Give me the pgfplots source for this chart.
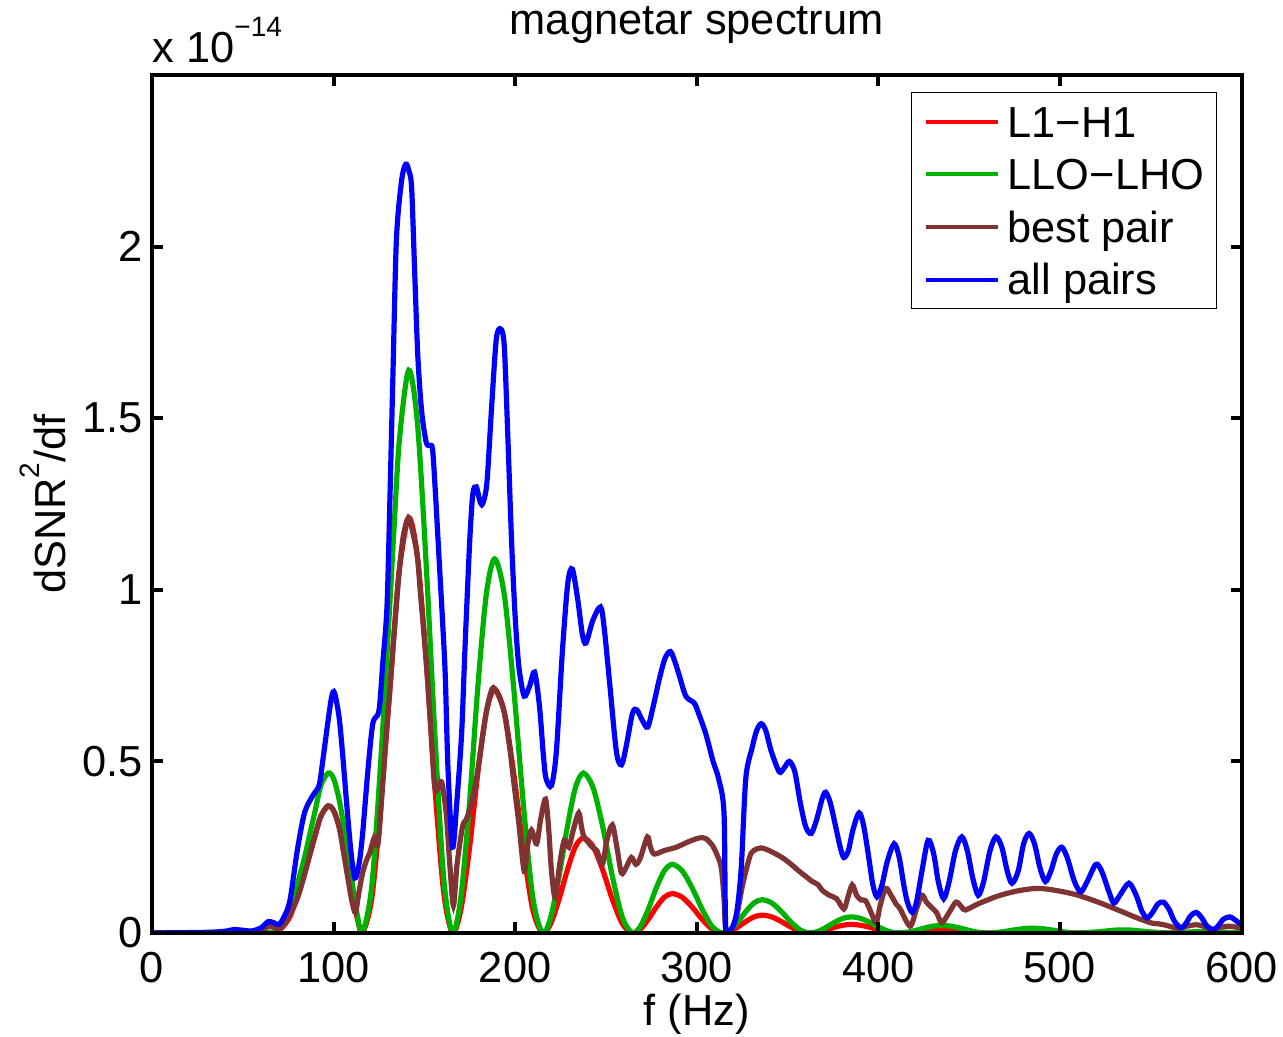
\documentclass[border=0pt]{standalone}
\usepackage{pgfplots}
\pgfplotsset{compat=1.18}
\usepackage{fontspec}
\setmainfont{Liberation Sans}
\definecolor{cred}{RGB}{255,0,0}
\definecolor{cgreen}{RGB}{0,178,0}
\definecolor{cbrown}{RGB}{128,51,51}
\definecolor{cblue}{RGB}{0,0,255}
\newcommand{\fs}{\fontsize{21.7}{26}\selectfont}
\newcommand{\sups}[1]{\raisebox{13pt}{\fontsize{14}{14}\selectfont #1}}
\begin{document}
\begin{tikzpicture}
\begin{axis}[
  scale only axis, width=544.75pt, height=429pt,
  xmin=0, xmax=600, ymin=0, ymax=2.5,
  xtick={0,100,200,300,400,500,600},
  ytick={0,0.5,1,1.5,2},
  tick align=inside, xtick pos=both, ytick pos=both,
  major tick length=5.5pt,
  every tick/.style={black, line width=2pt},
  axis line style={line width=2pt, black},
  axis on top,
  /pgf/number format/assume math mode=true,
  tick label style={font=\fs},
  xticklabel style={anchor=base, inner sep=0pt, yshift=-24.5pt},
  yticklabel style={anchor=east, inner sep=0pt, xshift=-4.5pt},
  scaled y ticks=false,
  legend cell align=left,
  legend style={at={(rel axis cs:1,1)}, anchor=north east, xshift=-12.25pt, yshift=-8.5pt,
    draw=black, line width=0.75pt, fill=white, font=\fs,
    inner xsep=6pt, inner ysep=1.35pt, row sep=0pt, column sep=4pt,
    nodes={inner sep=0pt, text height=20.85pt, text depth=5.45pt}},
  legend image code/.code={\draw[#1, line width=2pt] (0pt,0pt) -- (36pt,0pt);},
  every axis plot/.append style={line width=2.6pt, smooth, tension=0.5},
]
\addplot[cred] table {
0 0
55 0
62 0
70 0.008
76 0.048
80 0.111
84 0.175
87 0.23
90 0.286
93 0.341
97 0.37
100 0.357
103 0.31
106 0.238
109 0.151
111 0.095
113.5 0.032
116 0
121.1 0.103
126.2 0.386
131.2 0.723
133.5 0.885
136.3 1.063
141.4 1.21
146.2 1.095
151.0 0.793
155.9 0.417
160.7 0.116
165.5 0
170.1 0.068
174.8 0.245
179.4 0.465
184.1 0.643
188.7 0.71
194.0 0.643
199.2 0.465
204.5 0.245
209.7 0.068
215 0
219.5 0.0265
224.0 0.0956
228.6 0.181
233.1 0.251
237.6 0.277
243.0 0.251
248.4 0.181
253.7 0.0956
259.1 0.0265
264.5 0
268.9 0.011
273.3 0.0397
277.7 0.0753
282.1 0.104
286.5 0.115
292 0.104
297.5 0.0753
303 0.0397
308.5 0.011
314 0
318.4 0.005
322.8 0.018
327.2 0.034
331.6 0.047
336 0.052
341.2 0.047
346.4 0.034
351.6 0.018
356.8 0.005
362 0
366.6 0.0024
371.2 0.0086
375.8 0.0164
380.4 0.0226
385 0.025
390.2 0.0226
395.4 0.0164
400.6 0.0086
405.8 0.0024
411 0
420.6 0.004
425.4 0.008
430.2 0.011
435 0.012
440 0.011
445 0.008
450 0.004
460 0
472 0.003
485 0.005
498 0.003
510 0
522 0.002
535 0.003
548 0.002
560 0
580 0.002
600 0
};
\addplot[cgreen] table {
0 0
55 0
62 0
70 0.01
76 0.06
80 0.14
84 0.22
87 0.29
90 0.36
93 0.43
97 0.466
100 0.45
103 0.39
106 0.30
109 0.19
111 0.12
113.5 0.04
116 0
121.1 0.14
126.2 0.52
131.2 0.98
133.5 1.2
136.3 1.44
141.4 1.64
146.2 1.484
151.0 1.074
155.9 0.566
160.7 0.157
165.5 0
170.1 0.104
174.8 0.376
179.4 0.714
184.1 0.986
188.7 1.09
194.0 0.986
199.2 0.714
204.5 0.376
209.7 0.104
215 0
219.5 0.0445
224.0 0.161
228.6 0.305
233.1 0.422
237.6 0.466
243.0 0.422
248.4 0.305
253.7 0.161
259.1 0.0445
264.5 0
268.9 0.019
273.3 0.069
277.7 0.131
282.1 0.181
286.5 0.2
292 0.181
297.5 0.131
303 0.069
308.5 0.019
314 0
318.4 0.0093
322.8 0.0335
327.2 0.0635
331.6 0.0878
336 0.097
341.2 0.0878
346.4 0.0635
351.6 0.0335
356.8 0.0093
362 0
366.6 0.0045
371.2 0.0162
375.8 0.0308
380.4 0.0425
385 0.047
390.2 0.0425
395.4 0.0308
400.6 0.0162
405.8 0.0045
411 0
415.8 0.0021
420.6 0.0076
425.4 0.0144
430.2 0.0199
435 0.022
440 0.0199
445 0.0144
450 0.0076
455 0.0021
460 0
465 0.0013
470 0.0048
475 0.0092
480 0.0127
485 0.014
490 0.0127
495 0.0092
500 0.0048
505 0.0013
510 0
520 0.0031
530 0.0081
535 0.009
540 0.0081
550 0.0031
560 0
570 0.0025
580 0.005
590 0.0025
600 0
};
\addplot[cbrown] table {
0 0
50 0
58 0.004
65 0.02
70 0.012
75 0.045
80 0.1
84 0.17
87 0.23
90 0.29
93 0.34
96.8 0.37
100 0.357
103 0.31
105 0.25
108 0.155
110 0.095
112 0.06
114 0.12
116 0.175
118 0.21
120 0.235
122.6 0.28
124.5 0.26
127 0.43
129 0.58
131.2 0.723
133.5 0.885
136.3 1.063
138.5 1.16
141.2 1.21
143.5 1.17
146.2 1.095
148 0.98
151 0.793
153.5 0.6
155.6 0.43
157.5 0.42
159.5 0.44
162 0.35
164 0.2
166 0.08
168 0.2
171 0.31
173 0.33
175.5 0.37
178.7 0.45
182 0.57
184.1 0.643
186 0.69
188 0.715
191 0.69
194 0.643
197 0.54
199 0.45
202 0.32
205 0.18
207 0.26
209 0.30
211.8 0.26
214 0.33
216.7 0.39
218.5 0.3
220 0.18
222 0.105
224.5 0.2
227 0.27
229.5 0.25
232 0.3
235 0.35
236.5 0.31
238 0.28
242.5 0.25
245 0.24
248 0.20
250.5 0.27
253.5 0.315
256 0.25
258.5 0.175
261 0.19
264 0.22
266.5 0.20
269 0.22
272.8 0.28
274.5 0.25
276.6 0.23
282 0.24
288.8 0.25
295 0.265
301.4 0.277
305 0.275
308.5 0.256
311 0.23
313.5 0.19
315 0.1
316 0.01
319 0.01
322 0.05
325 0.134
328 0.2
330 0.233
333 0.245
335.5 0.248
340 0.24
347 0.22
352 0.2
356.4 0.18
360 0.165
363.6 0.15
365.5 0.145
367 0.14
369 0.125
373 0.11
377 0.1
381 0.07
383 0.1
385.6 0.14
388 0.11
390.5 0.096
393 0.094
396 0.06
398.8 0.03
401 0.08
404 0.13
407 0.11
409.7 0.085
412 0.07
417.5 0.02
421 0.07
424 0.11
426.5 0.09
429 0.076
432 0.06
435 0.03
439 0.06
442.8 0.09
446 0.075
448 0.067
455 0.085
466 0.108
477 0.123
488 0.13
499 0.123
510 0.11
521 0.09
532 0.067
542 0.045
550.5 0.029
554 0.027
558 0.023
565 0.014
570 0.02
575 0.024
579 0.02
583.5 0.01
588 0.016
593 0.02
597 0.017
600 0.015
};
\addplot[cblue] table {
0 0
30 0.002
40 0.005
45 0.01
50 0.008
55 0.006
60 0.015
64 0.033
67 0.03
70 0.025
73 0.05
76 0.096
80 0.24
84 0.35
88.5 0.40
92 0.43
94 0.50
97 0.62
99 0.69
100.5 0.70
103 0.63
105 0.52
107 0.39
109.5 0.24
111.7 0.16
114 0.2
116 0.29
119 0.48
121.6 0.61
124.3 0.635
125.5 0.67
127 0.78
129.4 0.95
131 1.26
132.7 1.63
134.6 2.02
137.4 2.19
139.7 2.24
141.5 2.22
143 2.17
144.7 1.92
146.4 1.68
148.5 1.52
151 1.43
153 1.42
154.5 1.41
156 1.29
158 1.10
160 0.91
161.5 0.75
163 0.48
165.5 0.25
168 0.39
170.5 0.58
172 0.78
173 0.91
175 1.145
176.7 1.28
178.6 1.30
180.5 1.26
182 1.25
184.4 1.31
187 1.53
189.6 1.73
192 1.76
194 1.71
196 1.44
198 1.145
199.7 0.95
201 0.84
202.4 0.76
205 0.69
208 0.72
210.7 0.76
213.4 0.66
215.5 0.52
217 0.45
220 0.43
222.7 0.53
226 0.82
229 1.02
231.5 1.06
234.5 0.97
237 0.87
239 0.845
242.7 0.91
247 0.95
249 0.89
252 0.73
255.7 0.53
258.5 0.49
261 0.54
264.6 0.64
267 0.65
270 0.62
273 0.60
276 0.66
279.4 0.74
282.5 0.80
285.5 0.82
288 0.79
290.4 0.75
294 0.69
298.6 0.67
301 0.64
305 0.58
309 0.50
312 0.45
315 0.35
316 0.01
319 0.01
322 0.06
324.5 0.19
327 0.45
330.5 0.54
333 0.59
335.5 0.61
338 0.59
341 0.53
345.4 0.47
348 0.48
351 0.50
354 0.47
357 0.38
360 0.31
363 0.29
366 0.33
369 0.39
371 0.41
373.5 0.38
376.5 0.31
379 0.25
381 0.22
383.5 0.24
386 0.30
389.4 0.35
392 0.31
395 0.21
397 0.14
399.3 0.105
402 0.14
405 0.21
408.7 0.26
411.5 0.22
414 0.14
416 0.09
418.6 0.06
421 0.09
424 0.18
427.4 0.27
430.5 0.23
433 0.15
436 0.10
439 0.15
442.5 0.24
446 0.28
449 0.24
452 0.16
455 0.11
458 0.15
461.5 0.24
464.8 0.28
468 0.25
471 0.18
473.6 0.145
477 0.18
480 0.26
483 0.29
486 0.26
489 0.19
492 0.15
495 0.18
498 0.23
501 0.25
504 0.22
508 0.15
511.5 0.12
515 0.15
519.8 0.20
523 0.18
527 0.12
529.7 0.087
533 0.11
538 0.145
542 0.11
545 0.065
548 0.044
551 0.06
554 0.085
557 0.09
560 0.07
563 0.035
566.5 0.015
569 0.025
572 0.05
575 0.06
578 0.045
581 0.02
584.6 0.01
587 0.02
590 0.04
593.5 0.047
596 0.04
598.4 0.03
600 0.025
};
\legend{L1−H1, LLO−LHO, best pair, all pairs}
\coordinate (bl) at (rel axis cs:0,0);
\coordinate (tr) at (rel axis cs:1,1);
\coordinate (tc) at (rel axis cs:0.5,1);
\coordinate (tl) at (rel axis cs:0,1);
\coordinate (bc) at (rel axis cs:0.5,0);
\coordinate (lc) at (rel axis cs:0,0.5);
\end{axis}
\node[anchor=base, font=\fs, inner sep=0pt] at ([yshift=20pt]tc) {magnetar spectrum};
\node[anchor=base west, font=\fs, inner sep=0pt] at ([yshift=6pt]tl) {x 10\sups{−14}};
\node[anchor=base, font=\fs, inner sep=0pt] at ([yshift=-46pt]bc) {f (Hz)};
\node[rotate=90, anchor=base, font=\fs, inner sep=0pt] at ([xshift=-43pt]lc) {dSNR\sups{2}/df};
\pgfresetboundingbox
\path[use as bounding box] ([xshift=-76pt,yshift=-52pt]bl) rectangle ([xshift=20.75pt,yshift=37.5pt]tr);
\end{tikzpicture}
\end{document}
